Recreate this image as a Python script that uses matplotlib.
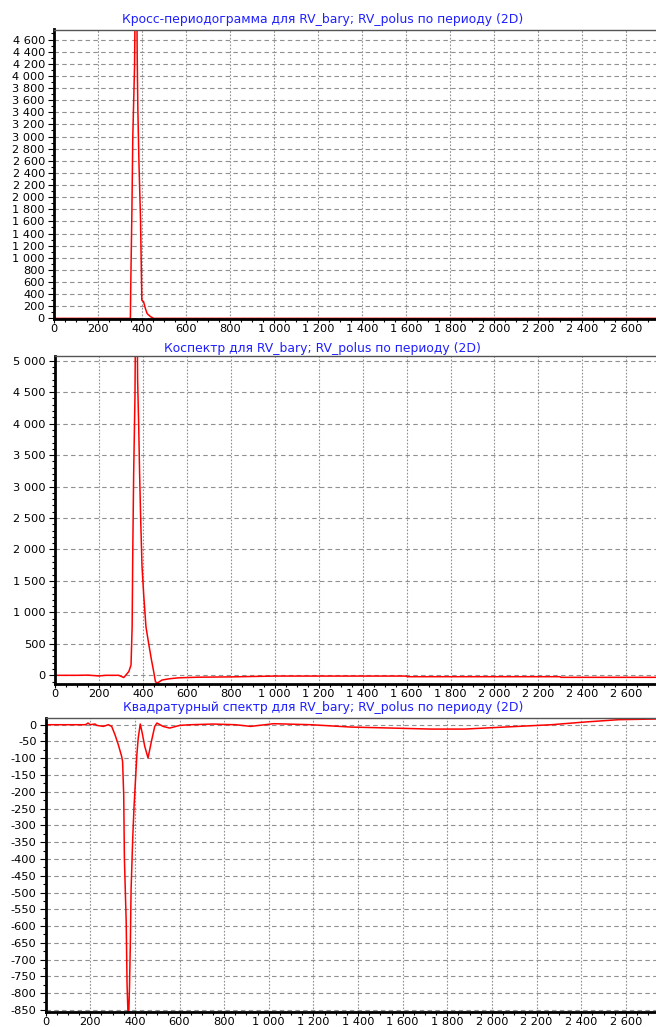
import matplotlib
matplotlib.use("Agg")
import matplotlib.pyplot as plt
from matplotlib.ticker import MultipleLocator, FuncFormatter

# ---------------- data ----------------
titles = [
    "Кросс-периодограмма для RV_bary; RV_polus по периоду (2D)",
    "Коспектр для RV_bary; RV_polus по периоду (2D)",
    "Квадратурный спектр для RV_bary; RV_polus по периоду (2D)",
]

x_ticks = list(range(0, 2601, 200))

top_x = [0, 100, 200, 300, 340, 347, 349, 354, 358, 366, 373, 378, 381, 386,
         393, 399, 407, 415, 423, 438, 453, 600, 1000, 1500, 2000, 2500, 2735]
top_y = [0, 0, 0, 0, 0, 0, 600, 1800, 3000, 4160, 7000, 4325, 3440, 2560,
         1650, 300, 275, 165, 80, 30, 0, 0, 0, 0, 0, 0, 0]

mid_x = [0, 100, 150, 200, 230, 290, 313, 336, 346, 351, 354, 358, 364, 370,
         376, 381, 385, 390, 396, 404, 414, 426, 439, 449, 457, 465, 487, 520,
         562, 650, 800, 1000, 1598, 1602, 2298, 2302, 2735]
mid_y = [0, 0, 3, -10, 0, 0, -35, 60, 165, 770, 1990, 3210, 4450, 7500,
         4690, 3950, 3210, 2470, 1730, 1260, 770, 510, 245, 60, -100, -125, -75,
         -55, -40, -30, -25, -12, -12, -22, -22, -32, -32]

bot_x = [0, 110, 177, 184, 190, 200, 222, 229, 259, 281, 296, 311, 326, 341,
         345, 350, 353, 361, 365, 371, 376, 380, 383, 390, 396, 400, 409, 415,
         424, 433, 444, 459, 474, 489, 499, 526, 556, 601, 650, 750, 850, 919,
         1022, 1188, 1368, 1550, 1728, 1877, 2056, 2267, 2416, 2568, 2735]
bot_y = [0, 0, 0, 2, 5, 0, 2, -2, -5, 0, -5, -30, -60, -95,
         -110, -210, -397, -585, -774, -900, -780, -640, -493, -345, -248, -198, -89, -40,
         2, -25, -64, -99, -50, -5, 5, -5, -10, -2, 0, 2, 0, -5,
         3, 0, -7, -10, -13, -13, -7, 0, 8, 15, 17]

# ---------------- layout ----------------
W, H = 656, 1027
plt.rcParams['font.family'] = ['DejaVu Sans']
fig = plt.figure(figsize=(W / 100, H / 100), dpi=100)

def px_rect(left, top, bottom, right=W):
    return [left / W, 1 - bottom / H, (right - left) / W, (bottom - top) / H]

panels = [
    dict(rect=px_rect(54, 29.5, 319), x=top_x, y=top_y, ylim=(-10, 4765),
         major=200, minor=100, title_y=19),
    dict(rect=px_rect(55, 356, 684), x=mid_x, y=mid_y, ylim=(-138, 5075),
         major=500, minor=100, title_y=348),
    dict(rect=px_rect(45.6, 718, 1012), x=bot_x, y=bot_y, ylim=(-856, 20),
         major=50, minor=25, title_y=708),
]

def fmt(v, pos):
    iv = int(round(v))
    s = f"{abs(iv):,}".replace(",", " ")
    return ("-" if iv < 0 else "") + s

for p, title in zip(panels, titles):
    ax = fig.add_axes(p["rect"])
    ax.plot(p["x"], p["y"], color="#ff0000", lw=1.1, zorder=2)
    ax.set_xlim(0, 2735)
    ax.set_ylim(*p["ylim"])
    ax.xaxis.set_major_locator(MultipleLocator(200))
    ax.xaxis.set_minor_locator(MultipleLocator(50))
    ax.yaxis.set_major_locator(MultipleLocator(p["major"]))
    ax.yaxis.set_minor_locator(MultipleLocator(p["minor"]))
    ax.xaxis.set_major_formatter(FuncFormatter(fmt))
    ax.yaxis.set_major_formatter(FuncFormatter(fmt))
    ax.tick_params(axis="y", which="major", direction="out", length=4,
                   width=0.8, labelsize=8.2, colors="black", pad=2.5)
    ax.tick_params(axis="x", which="major", direction="out", length=3,
                   width=0.8, labelsize=8.2, colors="black", pad=0.5)
    ax.tick_params(axis="both", which="minor", direction="out", length=2,
                   width=0.8)
    ax.grid(True, axis="y", which="major", color="#909090", lw=0.8,
            linestyle=(0, (4, 3)))
    ax.grid(True, axis="x", which="major", color="#909090", lw=0.8,
            linestyle=(0, (1.5, 1.5)))
    ax.set_axisbelow(True)
    ax.spines["left"].set_linewidth(2.0)
    ax.spines["bottom"].set_linewidth(2.0)
    ax.spines["top"].set_linewidth(1.0)
    ax.spines["top"].set_color("#555555")
    ax.spines["right"].set_visible(False)
    fig.text(0.492, 1 - p["title_y"] / H, title, color="#2020ff", fontsize=8.9,
             ha="center", va="center")

fig.savefig("out.png", dpi=100, facecolor="white")
